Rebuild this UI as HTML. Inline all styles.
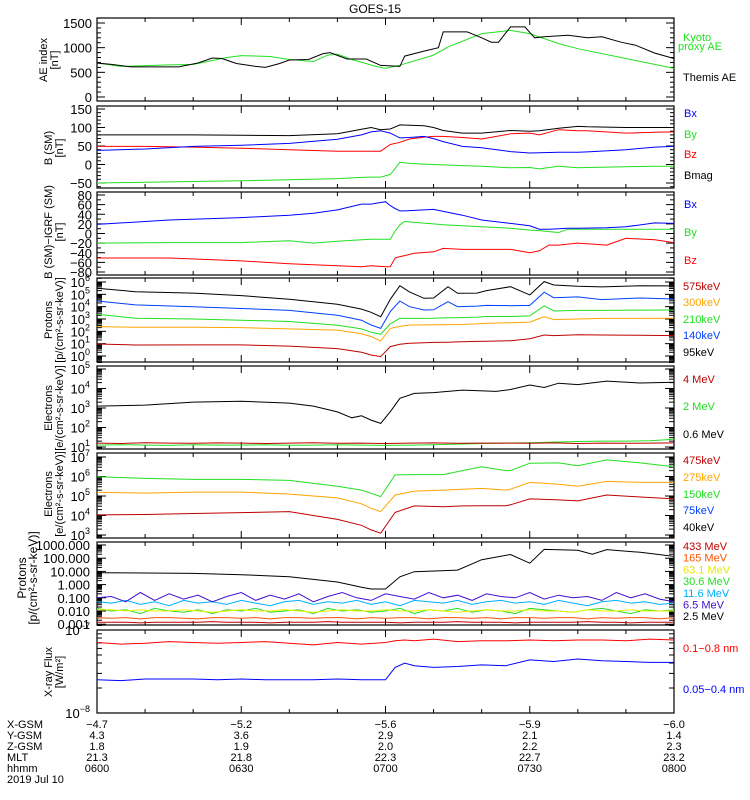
<!DOCTYPE html>
<html><head><meta charset="utf-8"><style>
html,body{margin:0;padding:0;background:#fff;}
svg{display:block;font-family:"Liberation Sans","DejaVu Sans",sans-serif;}
</style></head><body>
<svg id="chart" width="750" height="800" viewBox="0 0 750 800">
<text x="375" y="13" text-anchor="middle" font-size="12">GOES-15</text>
</svg>
<script>
// ---------- data ----------
const aeThemisT = [0,3,7,17,21,24,26,29,33,35,38,40,44,47,48.5,52,56,59,63,64,68,71,72,77,80,82,83.5,86,89,91,93,98,102,105,109,112,116,120];
const aeThemisV = [690,660,610,610,690,790,780,680,620,600,680,750,760,880,900,770,770,640,620,830,930,1000,1320,1320,1200,1110,1110,1420,1420,1200,1220,1250,1200,1220,1110,1050,890,780];
const aeKyotoT = [0,5,15,20,23,27,30,36,40,45,48,50,53,58,60,63,70,73,80,86,90,96,100,110,120];
const aeKyotoV = [690,620,650,660,720,800,840,820,760,720,850,870,760,620,580,645,850,1015,1285,1350,1285,1083,980,780,580];

const bT = [0,10,20,30,40,50,55,57,59,61,63,65,68,70,72,76,80,86,90,92,96,100,102,110,116,120];
const bMag = [80,80,80,79,78,83,95,100,94,96,107,106,105,100,92,85,85,92,90,91,98,103,102,100,100,100];
const bX = [38,42,49,52,57,68,80,88,91,85,72,73,76,70,62,49,45,35,31,32,33,33,34,40,47,49];
const bZ = [49,49,47,44,40,36,36,36,36,54,60,69,74,76,76,73,69,83,85,80,94,91,91,85,87,88];
const bY = [-50,-48,-46,-44,-41,-38,-35,-34,-34,-27,6,3,1,0,-1,-3,-5,-9,-8,-12,-5,-9,-8,-6,-5,-5];

const dT = [0,15,30,40,45,50,55,57,60,61,62,63,64,66,70,72,76,80,86,90,92,94,96,98,100,106,110,116,120];
const dX = [19,28,33,38,42,49,61,61,66,58,52,47,47,48,50,46,38,28,21,16,9,9,10,11,11,12,14,22,21];
const dY = [-20,-19,-19,-15,-20,-16,-13,-12,-12,-12,5,18,25,23,20,18,16,14,11,7,6,4,2,9,9,9,9,9,9];
const dZ = [-51,-51,-57,-63,-65,-67,-69,-67,-69,-69,-51,-48,-46,-41,-38,-31,-33,-33,-33,-40,-36,-24,-24,-22,-20,-24,-10,-13,-19];

const pT = [0,8,20,30,40,50,55,57,59,61,63,65,68,70,73,75,79,81,86,90,93,95,100,105,113,120];
const p95 = [5.49,5.21,5.1,4.9,4.6,4.2,3.8,3.54,3.19,4.6,5.7,5.2,4.68,4.7,5.62,5.08,5.1,5.3,5.62,4.95,6.03,5.76,5.65,5.6,5.7,5.68];
const p140 = [4.46,4.14,4.0,3.85,3.7,3.3,2.9,2.51,2.24,3.6,4.46,4.0,3.73,3.75,4.4,4.0,4.05,4.1,4.08,4.1,5.17,4.73,4.79,4.57,4.7,4.62];
const p210 = [3.38,3.06,3.0,2.9,2.8,2.5,2.2,1.92,1.76,2.6,3.06,3.05,3.05,3.06,3.1,3.1,3.15,3.2,3.2,3.25,4.08,3.65,3.7,3.7,3.72,3.73];
const p300 = [2.38,2.33,2.33,2.3,2.2,2.1,1.8,1.57,1.22,2.24,2.4,2.51,2.52,2.52,2.55,2.55,2.6,2.65,2.7,2.75,3.19,2.95,3.0,3.05,3.05,3.06];
const p575 = [0.97,0.89,0.9,0.9,0.8,0.6,0.3,0.08,-0.05,0.76,0.95,1.03,1.08,1.1,1.12,1.14,1.18,1.2,1.24,1.4,1.7,1.65,1.72,1.7,1.68,1.65];

const eT = [0,10,20,30,40,45,50,53,55,57,59,61,63,66,70,76,83,86,90,93,96,100,106,113,120];
const e06 = [3.10,3.15,3.3,3.35,3.25,3.1,2.8,2.5,2.6,2.38,2.21,2.81,3.5,3.75,3.79,3.92,3.85,3.95,4.18,4.05,4.27,4.2,4.38,4.28,4.32];
const e4T = [0,5,10,15,20,25,30,35,40,45,50,55,60,65,70,75,80,85,90,95,100,105,110,115,120];
const e4 = [1.2,1.18,1.22,1.2,1.19,1.21,1.2,1.18,1.2,1.22,1.19,1.2,1.18,1.2,1.21,1.19,1.2,1.2,1.19,1.21,1.18,1.2,1.19,1.2,1.21];
const e2 = [1.1,1.12,1.1,1.08,1.12,1.1,1.1,1.12,1.09,1.1,1.12,1.1,1.08,1.1,1.12,1.15,1.18,1.2,1.22,1.25,1.28,1.3,1.3,1.32,1.4];

const mT = [0,10,20,30,40,50,55,57,59,62,66,72,76,80,85,86,90,96,100,106,113,120];
const m150 = [5.99,5.9,5.85,5.85,5.8,5.5,5.3,5.14,4.97,6.08,6.1,6.1,6.3,6.5,6.3,6.3,6.68,6.7,6.55,6.85,6.7,6.5];
const m275 = [5.19,5.15,5.2,5.2,5.1,4.9,4.6,4.37,4.2,5.05,5.25,5.3,5.35,5.39,5.3,5.35,5.7,5.6,5.5,5.75,5.7,5.7];
const m475 = [4.03,4.05,4.1,4.15,4.2,3.8,3.5,3.26,3.09,4.16,4.49,4.45,4.49,4.5,4.5,4.55,4.85,4.8,4.75,5.05,4.95,4.85];

const hpT = [0,10,20,30,40,50,55,57,60,63,66,75,80,86,90,93,100,103,106,113,120];
const hp2 = [0.9,0.88,0.85,0.75,0.6,0.2,-0.2,-0.33,-0.33,0.59,0.98,1.1,1.89,2.28,1.62,2.67,2.6,2.3,2.65,2.45,2.14];
const nT = [0,3,6,9,12,15,18,21,24,27,30,33,36,39,42,45,48,51,54,57,60,63,66,69,72,75,78,81,84,87,90,93,96,99,102,105,108,111,114,117,120];
const hp65 = [-1.0,-0.9,-1.3,-0.6,-1.2,-0.7,-1.1,-0.8,-1.3,-0.9,-0.6,-1.2,-0.8,-1.1,-0.7,-1.3,-0.9,-0.6,-1.0,-1.2,-0.7,-0.9,-1.1,-0.6,-1.0,-0.8,-1.2,-0.7,-0.9,-1.0,-0.6,-1.1,-0.8,-1.0,-0.9,-1.2,-0.6,-1.0,-0.7,-1.1,-1.3];
const hp116 = [-1.3,-1.4,-1.2,-1.5,-1.3,-1.6,-1.2,-1.4,-1.3,-1.5,-1.2,-1.4,-1.6,-1.3,-1.2,-1.5,-1.3,-1.4,-1.2,-1.5,-1.3,-1.6,-1.2,-1.3,-1.4,-1.2,-1.5,-1.3,-1.2,-1.4,-1.3,-1.5,-1.2,-1.4,-1.6,-1.3,-1.2,-1.4,-1.3,-1.5,-1.4];
const hp306 = [-1.8,-2.0,-1.9,-2.2,-1.8,-2.0,-2.1,-1.9,-2.2,-1.9,-2.0,-1.8,-2.1,-2.0,-1.9,-2.2,-1.8,-2.0,-1.9,-2.1,-2.0,-1.8,-2.2,-1.9,-2.0,-1.8,-2.1,-1.9,-2.0,-2.2,-1.8,-1.9,-2.0,-2.1,-1.9,-1.8,-2.0,-2.2,-1.9,-2.0,-1.9];
const hp631 = [-1.9,-1.9,-2.0,-1.9,-2.0,-2.0,-1.9,-2.0,-2.1,-2.0,-1.9,-2.0,-2.0,-1.9,-2.0,-2.1,-2.0,-1.9,-2.0,-2.0,-1.9,-2.0,-2.0,-1.9,-2.0,-2.1,-2.0,-1.9,-2.0,-2.0,-1.9,-2.0,-2.0,-2.1,-1.9,-2.0,-2.0,-1.9,-2.0,-2.0,-2.0];
const hp165 = [-2.5,-2.55,-2.5,-2.6,-2.5,-2.5,-2.55,-2.6,-2.5,-2.5,-2.55,-2.5,-2.6,-2.5,-2.5,-2.55,-2.5,-2.5,-2.6,-2.5,-2.55,-2.5,-2.5,-2.6,-2.5,-2.5,-2.55,-2.5,-2.6,-2.5,-2.5,-2.55,-2.5,-2.5,-2.6,-2.5,-2.55,-2.5,-2.5,-2.6,-2.5];
const hp433 = [-2.85,-2.85,-2.85,-2.9,-2.85,-2.85,-2.85,-2.85,-2.8,-2.85,-2.85,-2.85,-2.9,-2.85,-2.85,-2.85,-2.8,-2.85,-2.85,-2.85,-2.85,-2.9,-2.85,-2.85,-2.85,-2.8,-2.85,-2.85,-2.85,-2.9,-2.85,-2.85,-2.85,-2.85,-2.8,-2.85,-2.85,-2.9,-2.85,-2.85,-2.85];

const xrT = [0,5,10,15,20,25,30,35,40,45,50,55,60,62,64,66,70,75,80,85,90,95,100,105,110,115,120];
const xrLong = [-7.15,-7.17,-7.16,-7.14,-7.15,-7.16,-7.15,-7.14,-7.16,-7.18,-7.15,-7.17,-7.15,-7.13,-7.12,-7.13,-7.11,-7.14,-7.13,-7.13,-7.12,-7.13,-7.12,-7.12,-7.13,-7.11,-7.12];
const xrShort = [-7.60,-7.61,-7.59,-7.59,-7.59,-7.60,-7.59,-7.60,-7.60,-7.60,-7.59,-7.60,-7.60,-7.45,-7.40,-7.43,-7.45,-7.44,-7.42,-7.43,-7.36,-7.38,-7.35,-7.37,-7.38,-7.39,-7.39];

const orbitLabels = ["X-GSM","Y-GSM","Z-GSM","MLT","hhmm"];
const orbitVals = [["-4.7","-5.2","-5.6","-5.9","-6.0"],["4.3","3.6","2.9","2.1","1.4"],["1.8","1.9","2.0","2.2","2.3"],["21.3","21.8","22.3","22.7","23.2"],["0600","0630","0700","0730","0800"]];
const majorTimes = [0,30,60,90,120];

// ---------- helpers ----------
const svg = document.getElementById('chart');
const NS = 'http://www.w3.org/2000/svg';
const X0 = 97, X1 = 674;
function xs(t){ return X0 + (t/120)*(X1-X0); }
function mk(tag, attrs, parent){
  const e = document.createElementNS(NS, tag);
  for (const k in attrs) e.setAttribute(k, attrs[k]);
  (parent||svg).appendChild(e);
  return e;
}
function yScale(p){ return v => p.y1 + (v-p.v1)*(p.y2-p.y1)/(p.v2-p.v1); }

const panels = [
 {name:'ae', top:18, bot:101, v1:0,y1:97,v2:1500,y2:23},
 {name:'bsm', top:106, bot:188, v1:-50,y1:183,v2:150,y2:109},
 {name:'bigrf', top:192, bot:275, v1:-80,y1:272,v2:80,y2:195},
 {name:'protons', top:278, bot:362, v1:0,y1:356,v2:6,y2:282},
 {name:'electrons-high', top:366, bot:449, v1:1,y1:447,v2:5,y2:369},
 {name:'electrons-low', top:453, bot:538, v1:3,y1:535,v2:7,y2:457},
 {name:'hi-protons', top:542, bot:625, v1:-2,y1:611,v2:3,y2:545},
 {name:'xray', top:630, bot:713, v1:-8,y1:713,v2:-7,y2:630}
];

function drawLine(p, ts, vs, color, name){
  const ys = yScale(p);
  let d = '';
  for (let i=0;i<ts.length;i++){
    let y = ys(vs[i]); y = Math.max(p.top, Math.min(p.bot, y));
    d += (i?'L':'M') + xs(ts[i]).toFixed(1) + ' ' + y.toFixed(1);
  }
  const e = mk('path', {d:d, fill:'none', stroke:color, 'stroke-width':1});
  
  
}

function frame(p){
  const g = mk('g', {});
  
  
  mk('rect', {x:X0, y:p.top, width:X1-X0, height:p.bot-p.top, fill:'none', stroke:'#000', 'stroke-width':1.2}, g);
  for (let t=0;t<=120;t+=10){
    const len = (t%30===0)?7:4;
    mk('line', {x1:xs(t), x2:xs(t), y1:p.bot, y2:p.bot-len, stroke:'#000'}, g);
    mk('line', {x1:xs(t), x2:xs(t), y1:p.top, y2:p.top+len, stroke:'#000'}, g);
  }
  return g;
}

function linearTicks(p, major, minor, labels){
  const g = frame(p);
  const ys = yScale(p);
  const lo = Math.ceil((p.v1 + (p.bot-p.y1)*(p.v2-p.v1)/(p.y2-p.y1))/minor)*minor;
  const hi = p.v1 + (p.top-p.y1)*(p.v2-p.v1)/(p.y2-p.y1);
  for (let v=lo; v<=hi+0.001; v+=minor){
    const y = ys(v);
    if (y<p.top-0.5||y>p.bot+0.5) continue;
    const len = (Math.abs(v%major)<0.001)?8:4;
    mk('line', {x1:X0, x2:X0+len, y1:y, y2:y, stroke:'#000'}, g);
    mk('line', {x1:X1, x2:X1-len, y1:y, y2:y, stroke:'#000'}, g);
  }
  labels.forEach(v=>{
    const t = mk('text', {x:92, y:ys(v)+5, 'text-anchor':'end', 'font-size':13}, g);
    t.textContent = String(v).replace('-','\u2212');
  });
}

function logTicks(p, decs, labelFn){
  const g = frame(p);
  const ys = yScale(p);
  for (let d=decs[0]-1; d<=decs[1]; d++){
    for (let m=1;m<10;m++){
      const v = d + Math.log10(m);
      const y = ys(v);
      if (y<p.top-0.5||y>p.bot+0.5) continue;
      const len = m===1?9:5;
      mk('line', {x1:X0, x2:X0+len, y1:y, y2:y, stroke:'#000'}, g);
      mk('line', {x1:X1, x2:X1-len, y1:y, y2:y, stroke:'#000'}, g);
    }
  }
  for (let d=decs[0]; d<=decs[1]; d++){
    const y = ys(d);
    const t = mk('text', {x:90, y:y+5, 'text-anchor':'end', 'font-size':13}, g);
    if (labelFn){ t.textContent = labelFn(d); }
    else {
      t.textContent = '10';
      const s = mk('tspan', {dy:-6, 'font-size':9}, t);
      s.textContent = String(d).replace('-','\u2212');
    }
  }
}

function yTitle(cx, cy, lines, size){
  const t = mk('text', {transform:`translate(${cx},${cy}) rotate(-90)`, 'text-anchor':'middle', 'font-size':size||11});
  
  
  lines.forEach((l,i)=>{
    const s = mk('tspan', {x:0, dy:i?11:0}, t);
    s.textContent = l;
  });
}

function legend(x, y, txt, color){
  const t = mk('text', {x:x, y:y, 'font-size':11, fill:color});
  
  
  t.textContent = txt;
}

// ---------- panels ----------
const P = panels;
linearTicks(P[0], 500, 100, [0,500,1000,1500]);
drawLine(P[0], aeKyotoT, aeKyotoV, '#22e022', 'kyoto-ae-line');
drawLine(P[0], aeThemisT, aeThemisV, '#000', 'themis-ae-line');
yTitle(47, 60, ['AE index','[nT]']);
legend(683, 41, 'Kyoto', '#22e022'); legend(678, 50, 'proxy AE', '#22e022'); legend(683, 81, 'Themis AE', '#000');

linearTicks(P[1], 50, 10, [-50,0,50,100,150]);
drawLine(P[1], bT, bY, '#22e022', 'by-line');
drawLine(P[1], bT, bZ, '#f00', 'bz-line');
drawLine(P[1], bT, bX, '#00f', 'bx-line');
drawLine(P[1], bT, bMag, '#000', 'bmag-line');
yTitle(52, 148, ['B (SM)','[nT]']);
legend(684, 117, 'Bx', '#00f'); legend(684, 138, 'By', '#22e022'); legend(684, 158, 'Bz', '#f00'); legend(684, 179, 'Bmag', '#000');

linearTicks(P[2], 20, 10, [-80,-60,-40,-20,0,20,40,60,80]);
drawLine(P[2], dT, dY, '#22e022', 'dby-line');
drawLine(P[2], dT, dZ, '#f00', 'dbz-line');
drawLine(P[2], dT, dX, '#00f', 'dbx-line');
yTitle(52, 232, ['B (SM)\u2212IGRF (SM)','[nT]']);
legend(684, 208, 'Bx', '#00f'); legend(684, 236, 'By', '#22e022'); legend(684, 264, 'Bz', '#f00');

logTicks(P[3], [0,6]);
drawLine(P[3], pT, p575, '#c00000', 'proton-575kev-line');
drawLine(P[3], pT, p300, '#ffa500', 'proton-300kev-line');
drawLine(P[3], pT, p210, '#22e022', 'proton-210kev-line');
drawLine(P[3], pT, p140, '#0040ff', 'proton-140kev-line');
drawLine(P[3], pT, p95, '#000', 'proton-95kev-line');
yTitle(52, 320, ['Protons','[p/(cm\u00b2-s-sr-keV)]']);
legend(683, 290, '575keV', '#c00000'); legend(683, 306, '300keV', '#ffa500'); legend(683, 323, '210keV', '#22e022'); legend(683, 339, '140keV', '#0040ff'); legend(683, 356, '95keV', '#000');

logTicks(P[4], [1,5]);
drawLine(P[4], e4T, e2, '#22e022', 'electron-2mev-line');
drawLine(P[4], e4T, e4, '#c00000', 'electron-4mev-line');
drawLine(P[4], eT, e06, '#000', 'electron-06mev-line');
yTitle(52, 408, ['Electrons','[e/(cm\u00b2-s-sr-keV)]']);
legend(683, 383, '4 MeV', '#c00000'); legend(683, 410, '2 MeV', '#22e022'); legend(683, 438, '0.6 MeV', '#000');

logTicks(P[5], [3,7]);
drawLine(P[5], mT, m475, '#c00000', 'electron-40kev-line');
drawLine(P[5], mT, m275, '#ffa500', 'electron-75kev-line');
drawLine(P[5], mT, m150, '#22e022', 'electron-150kev-line');
yTitle(52, 494, ['Electrons','[e/(cm\u00b2-s-sr-keV)]']);
legend(683, 464, '475keV', '#c00000'); legend(683, 481, '275keV', '#ffa500'); legend(683, 498, '150keV', '#22e022'); legend(683, 514, '75keV', '#0040ff'); legend(683, 531, '40keV', '#000');

logTicks(P[6], [-3,3], d=>(Math.pow(10,d)).toFixed(3));
drawLine(P[6], nT, hp433, '#c00000', 'hiproton-433mev-line');
drawLine(P[6], nT, hp165, '#ff5500', 'hiproton-165mev-line');
drawLine(P[6], nT, hp306, '#22e022', 'hiproton-306mev-line');
drawLine(P[6], nT, hp631, '#f0f000', 'hiproton-631mev-line');
drawLine(P[6], nT, hp116, '#00b0ff', 'hiproton-116mev-line');
drawLine(P[6], nT, hp65, '#4010d0', 'hiproton-65mev-line');
drawLine(P[6], hpT, hp2, '#000', 'hiproton-25mev-line');
yTitle(26, 578, ['Protons','[p/(cm\u00b2-s-sr-keV)]'], 12);
const hpLeg = [['433 MeV','#c00000'],['165 MeV','#ff5500'],['63.1 MeV','#e8e800'],['30.6 MeV','#22e022'],['11.6 MeV','#00b0ff'],['6.5 MeV','#4010d0'],['2.5 MeV','#000']];
hpLeg.forEach((l,i)=>legend(683, 550+i*11.7, l[0], l[1]));

logTicks(P[7], [-8,-7]);
drawLine(P[7], xrT, xrLong, '#f00', 'xray-long-line');
drawLine(P[7], xrT, xrShort, '#00f', 'xray-short-line');
yTitle(52, 672, ['X-ray Flux','[W/m\u00b2]']);
legend(683, 652, '0.1\u22120.8 nm', '#f00'); legend(683, 693, '0.05\u22120.4 nm', '#00f');

// ---------- orbit table ----------
orbitLabels.forEach((lab,i)=>{
  const y = 728 + i*11;
  const t = mk('text', {x:7, y:y, 'font-size':11});
  
  
  t.textContent = lab;
  orbitVals[i].forEach((v,j)=>{
    const tv = mk('text', {x:xs(majorTimes[j]), y:y, 'font-size':11, 'text-anchor':'middle'});
    
    
    tv.textContent = v.replace('-','\u2212');
  });
});
const dt = mk('text', {x:7, y:783, 'font-size':11});


dt.textContent = '2019 Jul 10';
</script>
</body></html>
